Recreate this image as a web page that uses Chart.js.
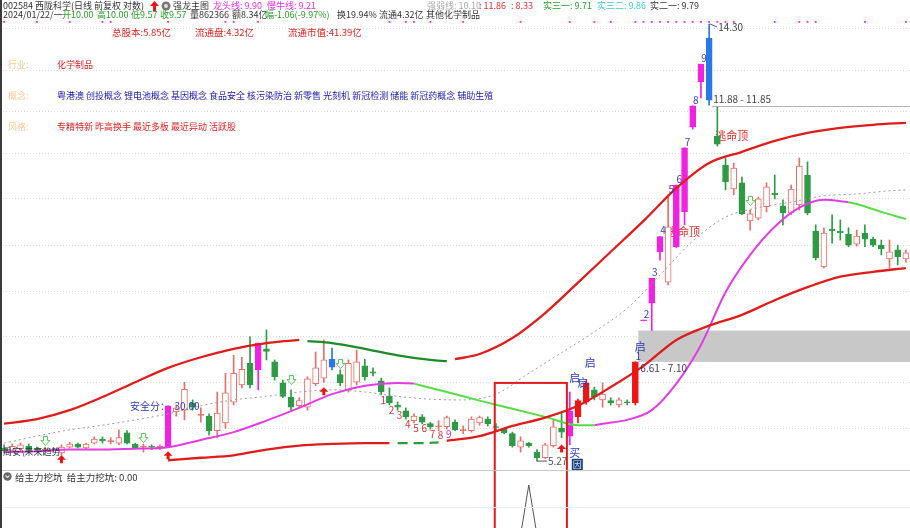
<!DOCTYPE html>
<html><head><meta charset="utf-8">
<script src="https://cdn.jsdelivr.net/npm/chart.js@4.4.1/dist/chart.umd.min.js"></script>
<style>
html,body{margin:0;padding:0;background:#fff;}
#wrap{position:relative;width:910px;height:528px;overflow:hidden;font-family:"Noto Sans CJK SC","Noto Sans",sans-serif;}
canvas{position:absolute;left:0;top:0;}
.t{position:absolute;white-space:nowrap;font-size:9px;line-height:12px;}
.s{font-size:9px;}
#strip{position:absolute;left:0;top:0;width:2px;height:528px;background:#3a3a3a;}
</style></head><body>
<div id="wrap">
<canvas id="c" width="910" height="528"></canvas>
<div id="strip"></div>
<!-- row 1 -->
<div class="t" style="left:3px;top:0;color:#333">002584 西陇科学(日线 前复权 对数)</div>
<svg style="position:absolute;left:150px;top:1px" width="9" height="10"><path d="M4.5 0 L9 5 L6 5 L6 10 L3 10 L3 5 L0 5 Z" fill="#e81515"/></svg>
<svg style="position:absolute;left:161px;top:1px" width="10" height="10"><circle cx="5" cy="5" r="4.5" fill="#777"/><circle cx="5" cy="5" r="2" fill="#ddd"/></svg>
<div class="t" style="left:173px;top:0;color:#333">强龙主图</div>
<div class="t" style="left:213px;top:0;color:#e030e0">龙头线: 9.90</div>
<div class="t" style="left:267px;top:0;color:#e030e0">慢牛线: 9.21</div>
<div class="t" style="left:427px;top:0;color:#aaa">强弱线: 10.10</div>
<div class="t" style="left:479px;top:0;color:#e03030">: 11.86</div>
<div class="t" style="left:511px;top:0;color:#e03030">: 8.33</div>
<div class="t" style="left:543px;top:0;color:#2a9a2a">实三一: 9.71</div>
<div class="t" style="left:597px;top:0;color:#3cc8c8">实三二: 9.86</div>
<div class="t" style="left:650px;top:0;color:#333">实二一: 9.79</div>
<!-- row 2 -->
<div class="t" style="left:3px;top:9px;color:#333">2024/01/22/一</div>
<div class="t" style="left:62px;top:9px;color:#2a9a2a">开10.00</div>
<div class="t" style="left:97px;top:9px;color:#2a9a2a">高10.00</div>
<div class="t" style="left:131px;top:9px;color:#2a9a2a">低9.57</div>
<div class="t" style="left:160px;top:9px;color:#2a9a2a">收9.57</div>
<div class="t" style="left:190px;top:9px;color:#333">量862366</div>
<div class="t" style="left:232px;top:9px;color:#333">额8.34亿</div>
<div class="t" style="left:265px;top:9px;color:#2a9a2a">幅-1.06(-9.97%)</div>
<div class="t" style="left:337px;top:9px;color:#333">换19.94%</div>
<div class="t" style="left:379px;top:9px;color:#333">流通4.32亿</div>
<div class="t" style="left:426px;top:9px;color:#333">其他化学制品</div>
<!-- row 3 -->
<div class="t" style="left:112px;top:26px;color:#dd2222;font-size:9.5px">总股本:5.85亿</div>
<div class="t" style="left:195px;top:26px;color:#dd2222;font-size:9.5px">流通盘:4.32亿</div>
<div class="t" style="left:288px;top:26px;color:#dd2222;font-size:9.5px">流通市值:41.39亿</div>
<!-- info rows -->
<div class="t s" style="left:8px;top:59px;color:#f2c89a">行业:</div>
<div class="t s" style="left:57px;top:59px;color:#dd2020">化学制品</div>
<div class="t s" style="left:8px;top:90px;color:#f2c89a">概念:</div>
<div class="t s" style="left:57px;top:90px;color:#1a1aa8">粤港澳 创投概念 锂电池概念 基因概念 食品安全 核污染防治 新零售 光刻机 新冠检测 储能 新冠药概念 辅助生殖</div>
<div class="t s" style="left:8px;top:121px;color:#f2c89a">风格:</div>
<div class="t s" style="left:57px;top:121px;color:#dd2020">专精特新 昨高换手 最近多板 最近异动 活跃股</div>
<!-- bottom-left -->
<div class="t s" style="left:3px;top:446px;color:#334">周安\未来趋势</div>
<!-- sub panel -->
<svg style="position:absolute;left:3px;top:472px" width="9" height="9"><circle cx="4.5" cy="4.5" r="4.2" fill="#666"/><path d="M2.5 3.5 L4.5 5.5 L6.5 3.5" stroke="#ddd" fill="none" stroke-width="1.2"/></svg>
<div class="t" style="left:15px;top:471px;color:#333;font-size:9.5px">给主力挖坑&nbsp;&nbsp;给主力挖坑: 0.00</div>
</div>
<script>
// ---------- data ----------
const N = 111;
const openP = [
 5.43,5.40,5.42,5.45,5.42,5.40,5.41,5.37,5.44,5.48,
 5.43,5.49,5.54,5.51,5.49,5.62,5.48,5.44,5.45,5.44,
 5.44,5.90,5.92,6.02,5.85,5.84,5.65,5.75,6.03,6.27,
 6.59,6.49,6.81,6.61,6.30,6.10,5.98,5.96,6.29,6.37,
 6.65,6.42,6.20,6.31,6.55,6.46,6.33,6.11,5.99,5.91,
 5.78,5.83,5.74,5.70,5.70,5.76,5.65,5.65,5.75,5.80,
 5.70,5.67,5.61,5.44,5.49,5.38,5.31,5.46,5.68,5.58,
 5.83,6.03,6.20,6.06,6.05,5.99,6.03,6.02,7.26,7.56,
 8.50,7.93,8.60,9.31,11.30,12.53,13.85,11.07,10.36,9.81,
 9.95,9.12,9.18,9.42,9.72,9.44,9.29,9.46,10.13,8.91,
 8.21,8.95,8.91,8.85,8.65,8.87,8.75,8.63,8.36,8.54,8.36];
const highP = [
 5.47,5.48,5.49,5.48,5.44,5.43,5.43,5.47,5.50,5.49,
 5.49,5.57,5.57,5.56,5.66,5.65,5.49,5.48,5.47,5.47,
 5.98,5.99,6.31,6.06,5.95,5.87,6.17,6.44,6.71,6.68,
 7.00,6.90,7.11,6.64,6.34,6.20,6.09,6.39,6.76,6.95,
 6.82,6.49,6.64,6.79,6.65,6.52,6.37,6.23,6.03,5.95,
 5.87,5.86,5.76,5.78,5.84,5.79,5.71,5.83,5.84,5.83,
 5.74,5.68,5.63,5.57,5.50,5.41,5.49,5.79,5.88,6.17,
 6.07,6.33,6.24,6.30,6.09,6.09,6.06,6.61,7.27,8.00,
 8.80,9.68,9.90,10.78,11.86,13.05,14.30,11.85,10.53,10.41,
 10.08,9.35,9.63,9.95,10.13,9.57,9.90,10.53,10.44,9.04,
 8.98,9.25,9.14,8.98,8.93,9.04,8.79,8.73,8.73,8.63,8.54];
const lowP = [
 5.37,5.38,5.39,5.37,5.40,5.38,5.39,5.34,5.43,5.43,
 5.42,5.48,5.49,5.48,5.47,5.48,5.42,5.38,5.41,5.41,
 5.44,5.84,5.79,5.92,5.76,5.59,5.56,5.68,5.99,6.23,
 6.23,6.20,6.64,6.34,6.09,5.92,5.95,5.92,6.26,6.31,
 6.49,6.26,6.17,6.27,6.34,6.40,6.13,5.99,5.92,5.80,
 5.75,5.74,5.67,5.65,5.67,5.65,5.61,5.63,5.72,5.71,
 5.66,5.61,5.44,5.38,5.44,5.27,5.30,5.44,5.56,5.47,
 5.75,6.00,6.06,5.96,5.99,5.96,5.99,5.99,7.26,7.10,
 8.34,7.88,8.58,9.04,11.25,12.08,11.88,10.82,9.79,9.68,
 9.25,8.93,9.14,9.31,9.59,9.04,9.25,9.35,9.25,8.34,
 8.19,8.67,8.73,8.60,8.61,8.60,8.60,8.44,8.19,8.25,8.30];
const closeP = [
 5.39,5.45,5.47,5.39,5.41,5.41,5.40,5.44,5.48,5.44,
 5.48,5.54,5.52,5.52,5.56,5.49,5.43,5.45,5.44,5.45,
 5.98,5.95,6.21,5.96,5.86,5.65,5.88,6.16,6.44,6.50,
 6.27,6.90,6.77,6.39,6.11,5.96,6.05,6.36,6.52,6.64,
 6.53,6.30,6.59,6.61,6.39,6.44,6.17,6.02,5.96,5.83,
 5.84,5.76,5.70,5.71,5.82,5.66,5.66,5.80,5.82,5.74,
 5.69,5.62,5.46,5.52,5.46,5.31,5.47,5.70,5.63,5.91,
 6.05,6.30,6.10,6.14,6.02,6.06,6.02,6.61,7.27,8.00,
 8.80,9.00,9.90,10.78,11.86,13.05,12.02,10.87,9.97,10.29,
 9.27,9.27,9.59,9.86,9.68,9.29,9.81,10.34,9.29,8.38,
 8.87,8.92,8.88,8.63,8.81,8.75,8.63,8.56,8.50,8.40,8.48];
// candle kind: U hollow up, D down, X doji, M magenta board, R red solid, B blue
const kinds = [
 'D','U','U','D','X','X','X','U','U','D',
 'U','U','D','X','U','D','D','X','X','X',
 'M','U','U','D','X','D','U','U','U','U',
 'D','M','D','D','D','D','U','U','U','U',
 'B','D','U','U','D','D','D','D','D','D',
 'U','D','D','X','U','D','X','U','U','D',
 'X','D','D','U','D','D','U','U','D','M',
 'R','R','D','U','D','U','X','R','M','M',
 'M','U','M','M','M','M','B','D','D','U',
 'D','U','U','U','D','D','U','U','D','D',
 'U','X','X','D','U','D','D','D','U','D','U'];

// indicator lines: [index, value]
const upperBandRedA = [[0,5.74],[4,5.80],[8,5.92],[12,6.10],[16,6.31],[20,6.52],[24,6.68],[28,6.81],[32,6.90],[36,6.95]];
const upperBandGreen = [[37,6.93],[40,6.90],[44,6.81],[48,6.71],[52,6.64],[54,6.62]];
const upperBandRedB = [[55,6.65],[58,6.73],[62,6.98],[66,7.39],[70,7.92],[74,8.50],[78,9.12],[82,9.83],[86,10.41],[90,10.68],[94,10.95],[98,11.15],[102,11.28],[106,11.36],[110,11.41]];
const lowerBandRedA = [[20,5.28],[24,5.31],[28,5.34],[32,5.41],[36,5.46],[40,5.48],[44,5.49],[47,5.49]];
const lowerBandGreen = [[48,5.49],[51,5.49],[53,5.50]];
const lowerBandRedB = [[54,5.52],[58,5.58],[62,5.71],[66,5.82],[70,5.98],[74,6.24],[78,6.55],[82,6.95],[86,7.18],[90,7.36],[94,7.61],[98,7.84],[102,8.03],[106,8.12],[110,8.19]];
const midMagentaA = [[0,5.38],[4,5.39],[8,5.41],[12,5.41],[16,5.42],[20,5.44],[24,5.53],[28,5.63],[32,5.78],[36,5.95],[40,6.14],[44,6.26],[48,6.30],[50,6.29]];
const midGreenA = [[50,6.29],[54,6.17],[58,6.05],[62,5.94],[66,5.83],[70,5.72],[72,5.72]];
const midMagentaB = [[72,5.72],[73,5.74],[76,5.79],[79,5.92],[82,6.29],[85,6.87],[88,7.75],[91,8.44],[94,9.00],[97,9.40],[100,9.57],[103,9.52]];
const midGreenB = [[103,9.52],[104,9.48],[107,9.31],[110,9.16]];
const grayDotted = [[0,5.49],[4,5.58],[8,5.66],[12,5.72],[16,5.79],[20,5.87],[24,5.98],[28,6.06],[32,6.11],[36,6.17],[40,6.20],[44,6.17],[48,6.11],[52,6.07],[56,6.06],[60,6.14],[64,6.44],[68,6.75],[72,7.08],[76,7.47],[80,8.06],[84,8.71],[88,9.20],[92,9.40],[96,9.52],[100,9.66],[104,9.70],[108,9.77],[110,9.79]];
const signalDotIdx = [0,4,8,12,13,20,27,28,31,47,49,50,52,56,63,69,72,74,77,78,79,80,81,82,83,84,85,86,87,88,89,94,97,98,99,105,110];
const signalDotLevel = 14.37;
const digPitPeakIdx = [64];
const gridPrices = [14.14,12.87,11.70,10.65,9.61,8.63,7.77,7.00,6.30,5.68];
const gapBox = {afterIndex:77, low:6.61, high:7.10, text:'6.61 - 7.10'};
const gapTop = {index:86, low:11.85, text:'11.88 - 11.85'};

// ---------- styling ----------
const C = {up:'#e66f68', down:'#2f9a45', mag:'#f022e0', red:'#f01515', blue:'#2a78e8'};
function candleColor(i){
  const k = kinds[i];
  if (k==='U') return C.up;
  if (k==='D') return C.down;
  if (k==='M') return C.mag;
  if (k==='R') return C.red;
  if (k==='B') return C.blue;
  return closeP[i] >= openP[i] ? C.up : C.down;
}
const stroke = [], fill = [];
for (let i=0;i<N;i++){ stroke.push(candleColor(i)); fill.push(kinds[i]==='U' ? '#ffffff' : candleColor(i)); }

const labels = Array.from({length:N}, (_, i) => String(i+1));
function sparse(pts){ const a = new Array(N).fill(null); pts.forEach(([i,v]) => { a[i] = v; }); return a; }
function lineDs(pts, color, width, extra){
  return Object.assign({type:'line', data:sparse(pts), borderColor:color, borderWidth:width, pointRadius:0,
    spanGaps:true, cubicInterpolationMode:'monotone', fill:false, yAxisID:'y', order:1}, extra||{});
}
const digPit = new Array(N).fill(0); digPitPeakIdx.forEach(i => { digPit[i] = 1; });

const bodies = openP.map((o,i) => [o, closeP[i]]);
const wicks = lowP.map((l,i) => [l, highP[i]]);

// ---------- annotations ----------
const lowNums = [[46,'1'],[47,'2'],[48,'3'],[49,'4'],[50,'5'],[51,'6'],[52,'7'],[53,'8'],[54,'9']];
const highNums = [[77,'1'],[78,'2'],[79,'3'],[80,'4'],[81,'5'],[82,'6'],[83,'7'],[84,'8'],[85,'9']];
const qiMarks = [[69,5,-14],[70,5,-16],[71,4,-18],[77,5,-15]];
const redArrows = [[7,4],[20,8],[39,9],[68,11]];
const greenArrows = [[5,-7],[17,-6],[35,-10],[41,-6],[91,-9]];
const warnTexts = [{i:87, p:11.07, dx:-2, dy:0, text:'逃命顶'}, {i:80, p:8.80, dx:7, dy:-5, text:'逃命顶'}];

const FONT = '"Noto Sans CJK SC","Noto Sans",sans-serif';
const annotPlugin = {
  id:'annot',
  beforeDatasetsDraw(chart){
    const {ctx, chartArea:ca} = chart; const xs = chart.scales.x, ys = chart.scales.y;
    const X = i => xs.getPixelForValue(i), Y = p => ys.getPixelForValue(p);
    ctx.save();
    const gx = X(gapBox.afterIndex) + 3;
    ctx.fillStyle = '#c8c8c8';
    ctx.fillRect(gx, Y(gapBox.high), ca.right - gx, Y(gapBox.low) - Y(gapBox.high));
    ctx.font = '11px ' + FONT; ctx.fillStyle = '#e0282a'; ctx.textBaseline = 'middle'; ctx.textAlign = 'left';
    warnTexts.forEach(w => ctx.fillText(w.text, X(w.i) + w.dx, Y(w.p) + w.dy));
    ctx.restore();
  },
  afterDatasetsDraw(chart){
    const {ctx, chartArea:ca} = chart; const xs = chart.scales.x, ys = chart.scales.y;
    const X = i => xs.getPixelForValue(i), Y = p => ys.getPixelForValue(p);
    ctx.save();
    ctx.textBaseline = 'middle';
    // red frame
    ctx.strokeStyle = '#e41a1a'; ctx.lineWidth = 2;
    const rl = X(59.85), rr = X(68.65), rt = Y(6.30);
    ctx.strokeRect(rl, rt, rr - rl, ca.bottom + 10 - rt);
    // numbers below lows
    ctx.font = '10px ' + FONT; ctx.textAlign = 'center';
    lowNums.forEach(([i,t]) => { ctx.fillStyle = t==='9' ? '#c830c8' : '#c83a3a'; ctx.fillText(t, X(i)+2, Y(lowP[i]) + 5); });
    ctx.fillStyle = '#3b3bb0';
    highNums.forEach(([i,t]) => { ctx.fillText(t, X(i)+3, Y(highP[i]) - 6); });
    // 启
    ctx.font = '11px ' + FONT; ctx.fillStyle = '#2b3bb5';
    qiMarks.forEach(([i,dx,dy]) => ctx.fillText('启', X(i)+dx, Y(highP[i]) + dy));
    // 买 and box
    ctx.fillText('买', X(69)+5, Y(lowP[69]) + 8);
    ctx.fillStyle = '#1d3f7a'; ctx.fillRect(X(69)+2, Y(lowP[69]) + 14, 11, 12);
    ctx.fillStyle = '#cfe0ff'; ctx.font = '9px ' + FONT; ctx.fillText('因', X(69)+7.5, Y(lowP[69]) + 20);
    // safety score
    ctx.font = '10px ' + FONT; ctx.fillStyle = '#2a3ab0'; ctx.textAlign = 'left';
    ctx.fillText('安全分：  30.00', X(20) - 38, Y(highP[20]));
    // price labels
    ctx.fillStyle = '#444'; ctx.strokeStyle = '#555'; ctx.lineWidth = 1;
    const hx = X(86), hy = Y(highP[86]);
    ctx.beginPath(); ctx.moveTo(hx+1, hy); ctx.lineTo(hx+8, hy+3); ctx.stroke();
    ctx.fillText(highP[86].toFixed(2), hx+9, hy+3);
    const gy = Math.round(Y(gapTop.low)) + 0.5;
    ctx.strokeStyle = '#b0b0b0';
    ctx.beginPath(); ctx.moveTo(hx+3, gy); ctx.lineTo(ca.right, gy); ctx.stroke();
    ctx.fillStyle = '#444';
    ctx.fillText(gapTop.text, hx+4, gy - 7);
    ctx.fillStyle = '#3a3a6a';
    ctx.fillText(gapBox.text, X(gapBox.afterIndex)+5, Y(gapBox.low) + 6);
    const lx = X(65), ly = Y(lowP[65]);
    ctx.strokeStyle = '#555';
    ctx.beginPath(); ctx.moveTo(lx, ly); ctx.lineTo(lx+10, ly); ctx.stroke();
    ctx.fillStyle = '#555'; ctx.fillText(lowP[65].toFixed(2), lx+11, ly);
    // red up arrows
    ctx.fillStyle = '#e81515';
    redArrows.forEach(([i,dy]) => {
      const cx = X(i), cy = Y(lowP[i]) + dy;
      ctx.beginPath(); ctx.moveTo(cx, cy-4); ctx.lineTo(cx+4.5, cy+0.5); ctx.lineTo(cx+1.5, cy+0.5); ctx.lineTo(cx+1.5, cy+4);
      ctx.lineTo(cx-1.5, cy+4); ctx.lineTo(cx-1.5, cy+0.5); ctx.lineTo(cx-4.5, cy+0.5); ctx.closePath(); ctx.fill();
    });
    // green hollow arrows
    ctx.strokeStyle = '#5cc45c'; ctx.fillStyle = '#ffffff'; ctx.lineWidth = 1;
    greenArrows.forEach(([i,dy]) => {
      const cx = Math.round(X(i)) + 0.5, cy = Math.round(Y(highP[i]) + dy) + 0.5;
      ctx.beginPath(); ctx.moveTo(cx-2, cy-5); ctx.lineTo(cx+2, cy-5); ctx.lineTo(cx+2, cy-1); ctx.lineTo(cx+4.5, cy-1);
      ctx.lineTo(cx, cy+4); ctx.lineTo(cx-4.5, cy-1); ctx.lineTo(cx-2, cy-1); ctx.closePath(); ctx.fill(); ctx.stroke();
    });
    ctx.restore();
  },
  afterDraw(chart){
    const {ctx} = chart;
    ctx.save(); ctx.lineWidth = 1;
    ctx.strokeStyle = '#c8c8c8'; ctx.beginPath(); ctx.moveTo(0, 470.5); ctx.lineTo(910, 470.5); ctx.stroke();
    ctx.strokeStyle = '#ededed'; ctx.beginPath(); ctx.moveTo(0, 507.5); ctx.lineTo(910, 507.5); ctx.stroke();
    ctx.restore();
  }
};

new Chart(document.getElementById('c'), {
  type:'bar',
  data:{
    labels,
    datasets:[
      {type:'line', data:sparse(signalDotIdx.map(i => [i, signalDotLevel])), showLine:false, pointStyle:'rect',
       pointRadius:1.3, pointBackgroundColor:'#e030e0', pointBorderWidth:0, yAxisID:'y', order:0},
      lineDs(upperBandRedA, '#e01b1b', 2.3),
      lineDs(upperBandGreen, '#1f8a2a', 2.3),
      lineDs(upperBandRedB, '#e01b1b', 2.3),
      lineDs(lowerBandRedA, '#e01b1b', 2.3),
      lineDs(lowerBandGreen, '#2d9b3a', 2.3, {borderDash:[10,6]}),
      lineDs(lowerBandRedB, '#e01b1b', 2.3),
      lineDs(midMagentaA, '#e23ce2', 2),
      lineDs(midGreenA, '#55dd44', 2),
      lineDs(midMagentaB, '#e23ce2', 2),
      lineDs(midGreenB, '#55dd44', 2),
      lineDs(grayDotted, '#9a9a9a', 1, {borderDash:[2,3], order:1.5}),
      {type:'bar', data:bodies, backgroundColor:fill, borderColor:stroke, borderWidth:1, borderSkipped:false,
       barThickness:6, grouped:false, minBarLength:1, yAxisID:'y', order:2},
      {type:'bar', data:wicks, backgroundColor:stroke, borderWidth:0, barThickness:1, grouped:false, yAxisID:'y', order:3},
      {type:'line', data:digPit, borderColor:'#555', borderWidth:1, pointRadius:0, tension:0, yAxisID:'y2', order:4}
    ]
  },
  options:{
    responsive:false, animation:false, events:[], devicePixelRatio:1,
    layout:{padding:0, autoPadding:false},
    plugins:{legend:{display:false}, tooltip:{enabled:false}},
    scales:{
      x:{type:'category', display:false, offset:true},
      y:{type:'logarithmic', position:'left', min:4.523, max:15.106, bounds:'data',
         ticks:{display:false, padding:0}, grid:{color:'#dadada', drawTicks:false, lineWidth:1},
         border:{display:false, dash:[1,2]},
         afterFit: s => { s.width = 0; },
         afterBuildTicks: s => { s.ticks = gridPrices.map(v => ({value:v})); }},
      y2:{type:'linear', display:false, min:0.14, max:10.7}
    }
  },
  plugins:[annotPlugin]
});
</script>
</body></html>
